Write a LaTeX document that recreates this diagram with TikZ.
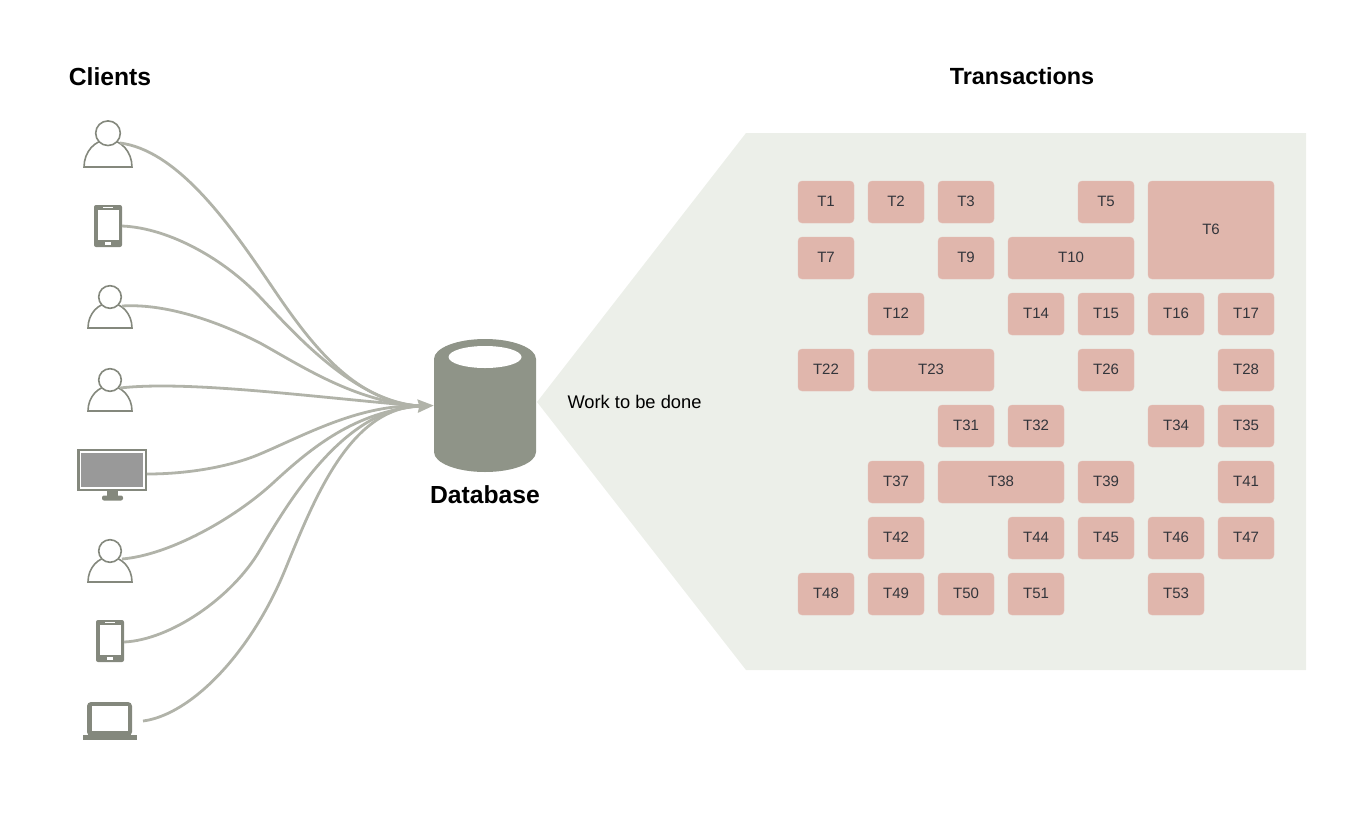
\documentclass[tikz,border=0pt]{standalone}
\usepackage{fontspec}
\setmainfont{Liberation Sans}
\usepackage{xcolor}
\usetikzlibrary{arrows.meta}
\usetikzlibrary{shapes.geometric}

\definecolor{panelcol}{HTML}{ECEFE9}
\definecolor{cellcol}{HTML}{E0B6AC}
\definecolor{cellline}{HTML}{E4BFB6}
\definecolor{iconcol}{HTML}{84887D}
\definecolor{dbcol}{HTML}{8F9488}
\definecolor{linkcol}{HTML}{B1B3A9}
\definecolor{screencol}{HTML}{999999}
\definecolor{celltext}{HTML}{33353B}

\tikzset{
    cell/.style={draw=cellline, fill=cellcol, rounded corners=4, inner sep=0, text=celltext, font=\fontsize{15}{18}\selectfont},
    heading/.style={font=\fontsize{24.7}{28}\selectfont\bfseries, text=black, inner sep=0},
    link/.style={draw=linkcol, line width=2.8},
    person/.pic={
        \draw[iconcol, line width=1.6, fill=white] (-22,0) arc[start angle=180, end angle=360, x radius=22, y radius=25] -- cycle;
        \draw[iconcol, line width=1.6, fill=white] (0,-31) circle (11.3);
    },
    phone/.pic={
        \fill[iconcol, rounded corners=2] (-14,-21) rectangle (14,21);
        \fill[white] (-10.5,-16.5) rectangle (10.5,13.5);
        \fill[white] (-5,-19) rectangle (5,-18);
        \fill[white] (-3,16) rectangle (3,18.5);
    },
    monitor/.pic={
        \fill[iconcol] (-35,-21) rectangle (35,21);
        \fill[white] (-32.5,-19) rectangle (32.5,19);
        \fill[screencol] (-31,-17) rectangle (31,17);
        \fill[iconcol] (-5,21) rectangle (6,27);
        \fill[iconcol, rounded corners=2] (-10,25.5) rectangle (11,30.5);
    },
    laptop/.pic={
        \fill[iconcol, rounded corners=4] (-22.5,-19) rectangle (22.5,15);
        \fill[white] (-17.5,-15) rectangle (18.5,10);
        \fill[iconcol] (-27,14) rectangle (27,19);
    }
}

\begin{document}
\begin{tikzpicture}[x=1pt, y=-1pt]
    \useasboundingbox (0,0) rectangle (1358,812);

    % Panel behind the transactions
    \fill[panelcol] (537,402) -- (746,133) -- (1306,133) -- (1306,670) -- (746,670) -- cycle;

    % Headings
    \node[heading] (clients) at (110,77) {Clients};
    \node[heading, font=\fontsize{23.4}{28}\selectfont\bfseries] (transactions) at (1022,76) {Transactions};

    % Clients
    \pic[scale=1.09] at (108,167) {person};
    \pic at (108,226) {phone};
    \pic at (110,328) {person};
    \pic at (110,411) {person};
    \pic at (112,470) {monitor};
    \pic at (110,582) {person};
    \pic at (110,641) {phone};
    \pic at (109.5,721) {laptop};

    \coordinate (client1) at (120,143);
    \coordinate (client2) at (122,226);
    \coordinate (client3) at (122,306);
    \coordinate (client4) at (120,388);
    \coordinate (client5) at (147,474);
    \coordinate (client6) at (122,559);
    \coordinate (client7) at (124,642);
    \coordinate (client8) at (143,721);
    \coordinate (hub) at (420,406);

    % Database
    \fill[dbcol] (434,359) arc[start angle=180, end angle=360, x radius=51, y radius=20]
        -- (536,452) arc[start angle=0, end angle=180, x radius=51, y radius=20] -- cycle;
    \node[ellipse, fill=white, minimum width=73, minimum height=22, inner sep=0] (dbtop) at (485,357) {};
    \node[minimum width=102, minimum height=133, inner sep=0] (database) at (485,405.5) {};
    \node[heading] (dblabel) at (485,495) {Database};
    \node[inner sep=0, font=\fontsize{18.3}{22}\selectfont] (work) at (634.5,402) {Work to be done};

    % Curves from the clients
    \draw[link] (client1) .. controls (175,150) and (225,218) .. (262,272) .. controls (297,323) and (345,402) .. (hub);
    \draw[link] (client2) .. controls (170,228) and (225,260) .. (260,297) .. controls (295,334) and (355,402) .. (hub);
    \draw[link] (client3) .. controls (170,303) and (225,325) .. (260,343) .. controls (300,365) and (355,402) .. (hub);
    \draw[link] (client4) .. controls (190,380) and (320,398) .. (hub);
    \draw[link] (client5) .. controls (190,474) and (232,466) .. (260,454) .. controls (305,435) and (360,404) .. (hub);
    \draw[link] (client6) .. controls (170,555) and (235,518) .. (273,483) .. controls (312,447) and (355,412) .. (hub);
    \draw[link] (client7) .. controls (170,640) and (232,598) .. (260,550) .. controls (290,499) and (345,408) .. (hub);
    \draw[link] (client8) .. controls (190,715) and (250,655) .. (285,570) .. controls (315,497) and (350,408) .. (hub);
    \draw[link, -{Stealth[length=16, width=13, inset=1.5]}] (hub) -- (database.west);

    % Transactions, col/row/columns spanned/rows spanned
    \foreach \col/\row/\w/\h/\label in {
        0/0/1/1/T1, 1/0/1/1/T2, 2/0/1/1/T3, 4/0/1/1/T5, 5/0/2/2/T6,
        0/1/1/1/T7, 2/1/1/1/T9, 3/1/2/1/T10,
        1/2/1/1/T12, 3/2/1/1/T14, 4/2/1/1/T15, 5/2/1/1/T16, 6/2/1/1/T17,
        0/3/1/1/T22, 1/3/2/1/T23, 4/3/1/1/T26, 6/3/1/1/T28,
        2/4/1/1/T31, 3/4/1/1/T32, 5/4/1/1/T34, 6/4/1/1/T35,
        1/5/1/1/T37, 2/5/2/1/T38, 4/5/1/1/T39, 6/5/1/1/T41,
        1/6/1/1/T42, 3/6/1/1/T44, 4/6/1/1/T45, 5/6/1/1/T46, 6/6/1/1/T47,
        0/7/1/1/T48, 1/7/1/1/T49, 2/7/1/1/T50, 3/7/1/1/T51, 5/7/1/1/T53
    } {
        \pgfmathsetmacro{\cellw}{56+70*(\w-1)}
        \pgfmathsetmacro{\cellh}{42+56*(\h-1)}
        \pgfmathsetmacro{\cellx}{798+70*\col+\cellw/2}
        \pgfmathsetmacro{\celly}{181+56*\row+\cellh/2}
        \node[cell, minimum width=\cellw pt, minimum height=\cellh pt, text depth=1.5pt] (\label) at (\cellx,\celly) {\label};
    }
\end{tikzpicture}
\end{document}
